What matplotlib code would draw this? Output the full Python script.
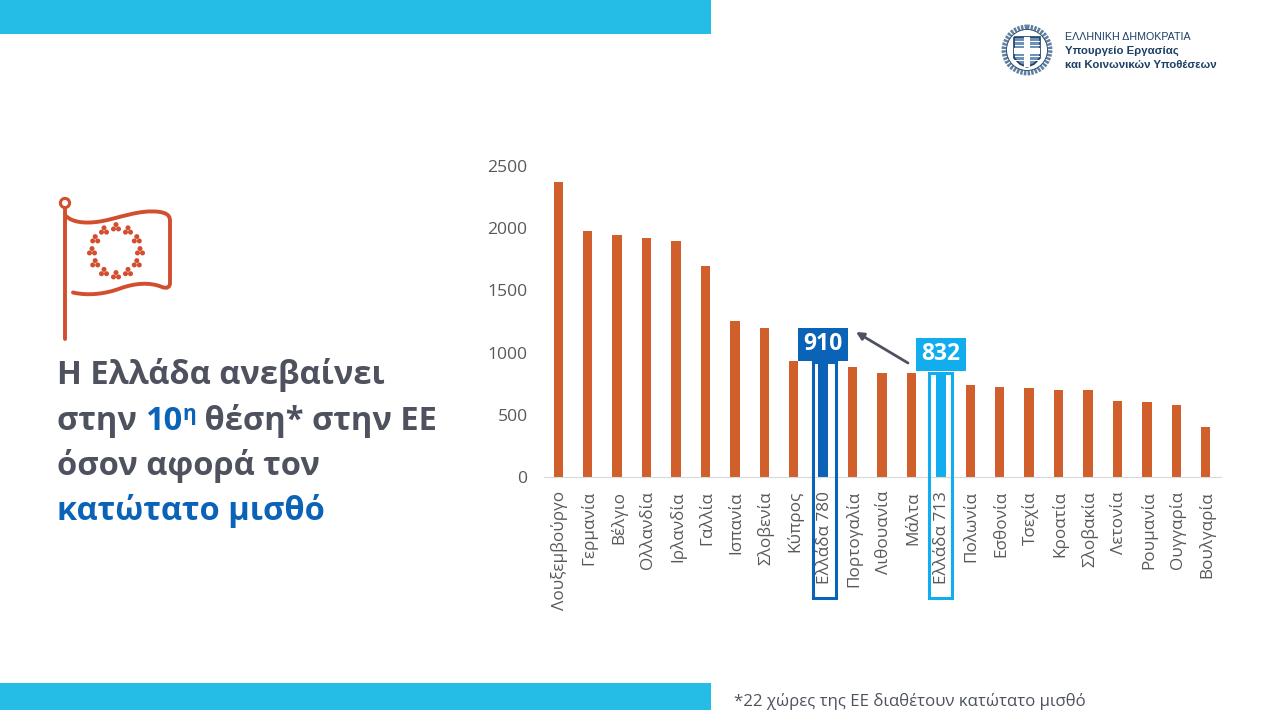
import numpy as np
import matplotlib
matplotlib.use("Agg")
import matplotlib.pyplot as plt
from matplotlib.patches import Rectangle, Circle, PathPatch
from matplotlib.path import Path
from matplotlib.transforms import ScaledTranslation

plt.rcParams["font.family"] = ["Open Sans", "DejaVu Sans"]

countries = ["Λουξεμβούργο", "Γερμανία", "Βέλγιο", "Ολλανδία", "Ιρλανδία", "Γαλλία", "Ισπανία",
             "Σλοβενία", "Κύπρος", "Ελλάδα 780", "Πορτογαλία", "Λιθουανία", "Μάλτα", "Ελλάδα 713",
             "Πολωνία", "Εσθονία", "Τσεχία", "Κροατία", "Σλοβακία", "Λετονία", "Ρουμανία",
             "Ουγγαρία", "Βουλγαρία"]
wages = [2375, 1977, 1945, 1925, 1897, 1700, 1254, 1197, 935, 910, 884, 836, 832, 832,
         742, 725, 713, 700, 696, 614, 606, 579, 399]
y_ticks = [0, 500, 1000, 1500, 2000, 2500]

ORANGE = "#d15f2b"
DARK_BLUE = "#0b63b8"
LIGHT_BLUE = "#12adee"
BAND = "#25bde6"
GREY = "#4d525e"
TICK_GREY = "#595959"
FLAG = "#d14f2f"
NAVY = "#1c3f66"
HEAD_FONT = ["Liberation Sans", "DejaVu Sans"]

W, H = 1265, 710
fig = plt.figure(figsize=(W / 100, H / 100), dpi=100)

# chart
ax = fig.add_axes([543.5 / W, 1 - 477 / H, 677 / W, 311 / H])
colors = [ORANGE] * len(wages)
colors[9] = DARK_BLUE
colors[13] = LIGHT_BLUE
ax.bar(range(len(wages)), wages, width=0.32, color=colors)
ax.set_xlim(-0.5, len(wages) - 0.5)
ax.set_ylim(0, 2500)
ax.set_yticks(y_ticks)
ax.set_xticks(range(len(wages)))
ax.set_xticklabels(countries, rotation=90, fontsize=12.3, color=TICK_GREY)
ax.tick_params(axis="y", length=0, labelsize=12.6, labelcolor=TICK_GREY, pad=11.5)
ax.tick_params(axis="x", length=0, pad=10)
# labels sit a little right of the bar centres in the slide
for lab in ax.get_xticklabels():
    lab.set_transform(lab.get_transform() + ScaledTranslation(1.5 / 100, 0, fig.dpi_scale_trans))
for s in ["top", "left", "right"]:
    ax.spines[s].set_visible(False)
ax.spines["bottom"].set_color("#d9d9d9")

# overlay in pixel coordinates for the slide furniture
ov = fig.add_axes([0, 0, 1, 1], zorder=5)
ov.set_xlim(0, W)
ov.set_ylim(H, 0)
ov.axis("off")

ov.add_patch(Rectangle((0, 0), 711, 34, color=BAND, lw=0))
ov.add_patch(Rectangle((0, 683), 711, 27, color=BAND, lw=0))
ov.text(734, 701, "*22 χώρες της ΕΕ διαθέτουν κατώτατο μισθό", fontsize=12.1, color=GREY, va="center")

# highlight boxes
ov.add_patch(Rectangle((812.5, 362), 23, 236, fill=False, ec=DARK_BLUE, lw=2.2))
ov.add_patch(Rectangle((928.5, 373), 23, 225, fill=False, ec=LIGHT_BLUE, lw=2.2))
ov.add_patch(Rectangle((798, 328), 50, 33, color=DARK_BLUE, lw=0))
ov.add_patch(Rectangle((916, 338), 50, 33, color=LIGHT_BLUE, lw=0))
ov.text(823, 344.5, "910", color="white", fontsize=16.5, fontweight="bold", ha="center", va="center")
ov.text(941, 354.5, "832", color="white", fontsize=16.5, fontweight="bold", ha="center", va="center")
ov.annotate("", xy=(856, 332), xytext=(908, 363),
            arrowprops=dict(arrowstyle="-|>", color=GREY, lw=2, mutation_scale=11, shrinkA=0, shrinkB=0))

# headline, built piece by piece because of the colour changes
def line(y, pieces, x=57):
    r = fig.canvas.get_renderer()
    for s, c, size, dy in pieces:
        t = ov.text(x, y + dy, s, color=c, fontsize=size, fontweight="bold", va="baseline")
        adv = t._get_layout(r)[0].width
        x += adv

SZ = 23.5
line(384, [("Η Ελλάδα ανεβαίνει", GREY, SZ, 0)])
line(430, [("στην ", GREY, SZ, 0), ("10", DARK_BLUE, SZ, 0), ("η", DARK_BLUE, 15, -10),
           (" θέση* στην ΕΕ", GREY, SZ, 0)])
line(475, [("όσον αφορά τον", GREY, SZ, 0)])
line(520, [("κατώτατο μισθό", DARK_BLUE, SZ, 0)])

# flag icon
ov.plot([65, 65], [208, 339], color=FLAG, lw=2.8, solid_capstyle="round")
ov.add_patch(Circle((65, 203), 4.6, fill=False, ec=FLAG, lw=2.2))
flag_verts = [(66, 216), (72, 222), (84, 224), (100, 221.5), (120, 218), (140, 209), (160, 212),
              (166, 213), (170, 215), (170, 221), (170, 283),
              (170, 287), (167, 289), (162, 287), (150, 282), (135, 283), (120, 288.5),
              (105, 294), (88, 296), (73, 292.5)]
flag_codes = [Path.MOVETO] + [Path.CURVE4] * 9 + [Path.LINETO] + [Path.CURVE4] * 9
ov.add_patch(PathPatch(Path(flag_verts, flag_codes), fill=False, ec=FLAG, lw=2.8, capstyle="round"))
for a in np.deg2rad(np.arange(0, 360, 30)):
    cx, cy = 116 + 24 * np.cos(a), 251.5 + 24 * np.sin(a)
    for b in np.deg2rad([90, 210, 330]):
        ov.add_patch(Circle((cx + 2.9 * np.cos(b), cy - 2.9 * np.sin(b)), 2.5, color=FLAG, lw=0))

# ministry logo
ov.add_patch(Circle((1027, 50), 23, fill=False, ec="#5f7f9f", lw=3.5, ls=(0, (0.5, 0.25))))
ov.add_patch(Circle((1027, 50), 20.5, fill=False, ec=NAVY, lw=0.6))
shield = [(1014, 37), (1040, 37), (1040, 58), (1034, 64), (1027, 67), (1020, 64), (1014, 58), (1014, 37)]
ov.add_patch(PathPatch(Path(shield), fc="#6f93b8", ec=NAVY, lw=1.2))
for yy in [41, 45, 56, 60]:
    ov.plot([1015, 1039], [yy, yy], color="white", lw=0.7)
ov.add_patch(Rectangle((1024, 37), 6, 30, color="white", lw=0))
ov.add_patch(Rectangle((1014, 48), 26, 6, color="white", lw=0))
ov.text(1065, 36.5, "ΕΛΛΗΝΙΚΗ ΔΗΜΟΚΡΑΤΙΑ", fontsize=7.7, color=NAVY, va="center", family=HEAD_FONT)
ov.text(1065, 51, "Υπουργείο Εργασίας", fontsize=8.2, color=NAVY, fontweight="bold", va="center", family=HEAD_FONT)
ov.text(1065, 65, "και Κοινωνικών Υποθέσεων", fontsize=8.2, color=NAVY, fontweight="bold", va="center", family=HEAD_FONT)

fig.savefig("out.png", dpi=100)
